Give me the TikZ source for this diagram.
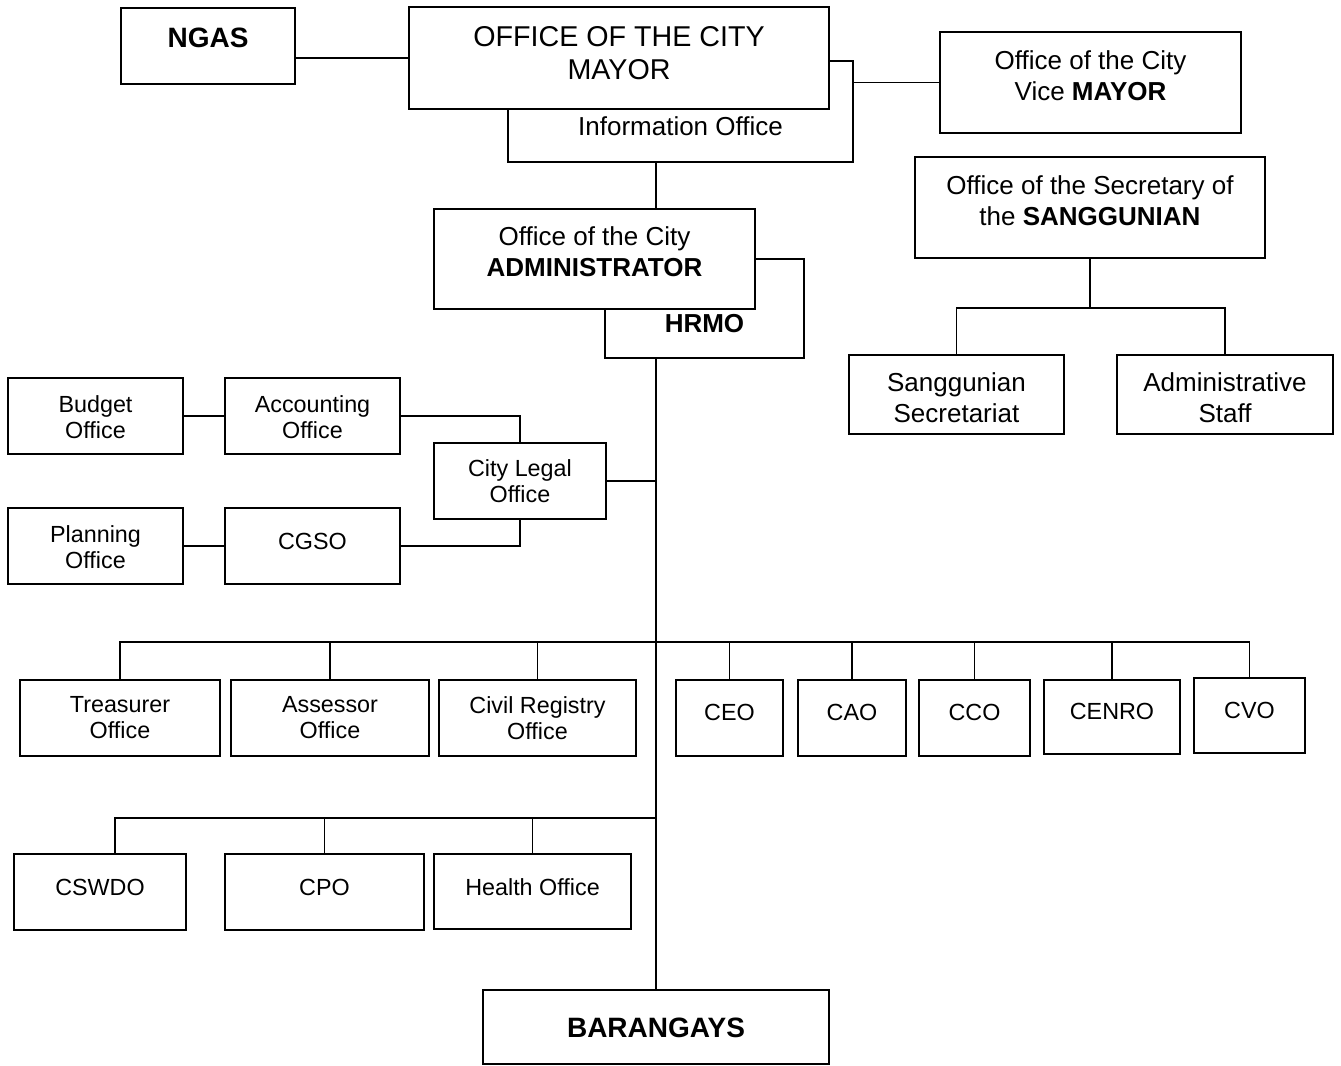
\documentclass[tikz,border=0pt]{standalone}
\usepackage{fontspec}
\setmainfont{Liberation Sans}
\begin{document}
\begin{tikzpicture}[x=0.75pt,y=-0.75pt,
  box/.style={draw, fill=white, line width=1.6pt, inner sep=0pt, outer sep=0pt},
  txt/.style={inner sep=0pt, align=center},
  fbig/.style={font=\fontsize{21.5}{24.75}\selectfont},
  fhead/.style={font=\fontsize{21}{24}\selectfont\bfseries},
  fmed/.style={font=\fontsize{19.5}{23.25}\selectfont},
  fsml/.style={font=\fontsize{17.5}{19.5}\selectfont},
  link/.style={line width=1.1pt}]
\useasboundingbox (0,0) rectangle (1341,1066);

% box: [text style]{name}{x1}{y1}{x2}{y2}{text centre y}{text}
\newcommand\orgbox[8][]{%
  \node[box, minimum width={(#5-#3)*0.75pt}, minimum height={(#6-#4)*0.75pt}]
    (#2) at ({(#3+#5)/2},{(#4+#6)/2}) {};
  \node[txt,#1] (#2-text) at ({(#3+#5)/2},#7) {#8};}

% top level
\orgbox[fhead]{ngas}{121}{8}{295}{84}{38}{NGAS}
\orgbox[fmed]{info}{508}{61}{853}{162}{126}{Information Office}
\orgbox[fbig]{mayor}{409}{7}{829}{109}{53.5}{OFFICE OF THE CITY\\MAYOR}
\orgbox[fmed]{vice}{940}{32}{1241}{133}{75.5}{Office of the City\\Vice \textbf{MAYOR}}
\orgbox[fmed]{sec}{915}{157}{1265}{258}{201}{Office of the Secretary of\\the \textbf{SANGGUNIAN}}
\orgbox[fmed]{secr}{849}{355}{1064}{434}{397.5}{Sanggunian\\Secretariat}
\orgbox[fmed]{staff}{1117}{355}{1333}{434}{397.5}{Administrative\\Staff}

% administrator and HRMO
\orgbox[fmed]{hrmo}{605}{259}{804}{358}{324}{\textbf{HRMO}}
\orgbox[fmed]{admin}{434}{209}{755}{309}{251.5}{Office of the City\\\textbf{ADMINISTRATOR}}

% staff offices on the left
\orgbox[fsml]{budget}{8}{378}{183}{454}{417}{Budget\\Office}
\orgbox[fsml]{acct}{225}{378}{400}{454}{417}{Accounting\\Office}
\orgbox[fsml]{legal}{434}{443}{606}{519}{481}{City Legal\\Office}
\orgbox[fsml]{plan}{8}{508}{183}{584}{547}{Planning\\Office}
\orgbox[fsml]{cgso}{225}{508}{400}{584}{541}{CGSO}

% departments, first row
\orgbox[fsml]{treas}{20}{680}{220}{756}{718}{Treasurer\\Office}
\orgbox[fsml]{assess}{231}{680}{429}{756}{718}{Assessor\\Office}
\orgbox[fsml]{civil}{439}{680}{636}{756}{718}{Civil Registry\\Office}
\orgbox[fsml]{ceo}{676}{680}{783}{756}{712}{CEO}
\orgbox[fsml]{cao}{798}{680}{906}{756}{712}{CAO}
\orgbox[fsml]{cco}{919}{680}{1030}{756}{712}{CCO}
\orgbox[fsml]{cenro}{1044}{680}{1180}{754}{711}{CENRO}
\orgbox[fsml]{cvo}{1194}{678}{1305}{753}{710}{CVO}

% departments, second row
\orgbox[fsml]{cswdo}{14}{854}{186}{930}{887}{CSWDO}
\orgbox[fsml]{cpo}{225}{854}{424}{930}{887}{CPO}
\orgbox[fsml]{health}{434}{854}{631}{929}{887}{Health Office}

\orgbox[fhead]{brgy}{483}{990}{829}{1064}{1028}{BARANGAYS}

% bus lines
\coordinate (spine) at (656,0);
\coordinate (busA) at (656,642);
\coordinate (busB) at (656,818);
\coordinate (busC) at (1090,308);

% connectors
\draw[link] (mayor.west) -- (mayor.west -| ngas.east);
\draw[link] (vice.west) -- (vice.west -| info.east);
\draw[link] (info.south -| spine) -- (admin.north -| spine);
\draw[link] (hrmo.south -| spine) -- (brgy.north);
\draw[link] (legal.east) -- (legal.east -| spine);
\draw[link] (budget.east) -- (acct.west);
\draw[link] (plan.east) -- (cgso.west);
\draw[link] (acct.east) -- (acct.east -| legal.north) -- (legal.north);
\draw[link] (cgso.east) -- (cgso.east -| legal.south) -- (legal.south);

\draw[link] (treas.north) -- (treas.north |- busA) -- (cvo.north |- busA) -- (cvo.north);
\foreach \n in {assess,civil,ceo,cao,cco,cenro}
  \draw[link] (\n.north) -- (\n.north |- busA);

\draw[link] ([xshift=11.25pt]cswdo.north) -- ([xshift=11.25pt]cswdo.north |- busB) -- (busB);
\foreach \n in {cpo,health}
  \draw[link] (\n.north) -- (\n.north |- busB);

\draw[link] (sec.south) -- (sec.south |- busC);
\draw[link] (secr.north) -- (secr.north |- busC) -- (staff.north |- busC) -- (staff.north);
\end{tikzpicture}
\end{document}
